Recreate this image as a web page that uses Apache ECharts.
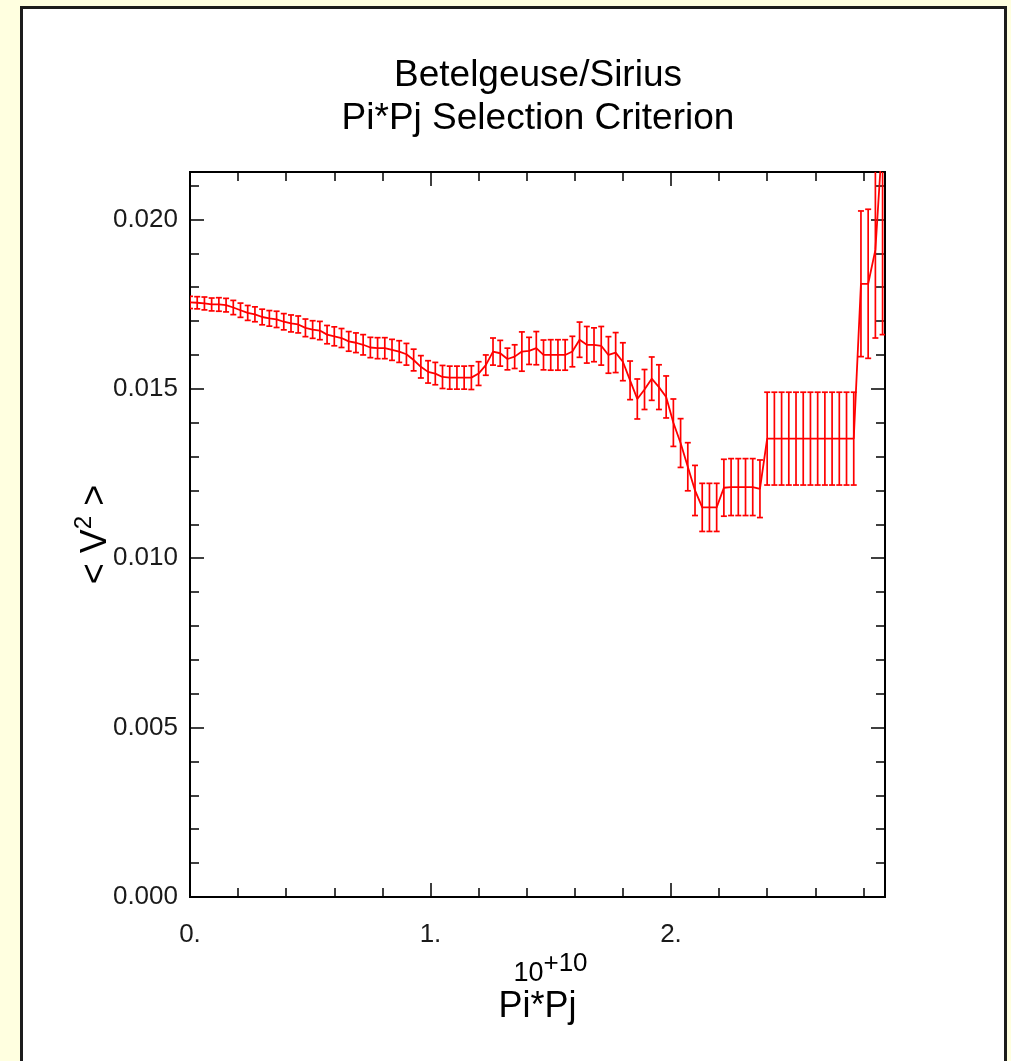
<!DOCTYPE html>
<html>
<head>
<meta charset="utf-8">
<script src="https://cdn.jsdelivr.net/npm/echarts@6/dist/echarts.min.js"></script>
<style>
  html, body { margin: 0; padding: 0; width: 1011px; height: 1061px; overflow: hidden; background: #ffffe0; }
  #panel { position: absolute; left: 20px; top: 6px; width: 981px; height: 1100px; background: #ffffff; border: 3px solid #1c1c1c; }
  #chart { position: absolute; left: 0; top: 0; width: 1011px; height: 1061px; }
</style>
</head>
<body>
<div id="panel"></div>
<div id="chart"></div>
<script>
// Pi*Pj threshold (units of 10^10)
const threshold = [
  0.00, 0.03, 0.06, 0.09, 0.12, 0.15, 0.18, 0.21, 0.24, 0.27,
  0.30, 0.33, 0.36, 0.39, 0.42, 0.45, 0.48, 0.51, 0.54, 0.57,
  0.60, 0.63, 0.66, 0.69, 0.72, 0.75, 0.78, 0.81, 0.84, 0.87,
  0.90, 0.93, 0.96, 0.99, 1.02, 1.05, 1.08, 1.11, 1.14, 1.17,
  1.20, 1.23, 1.26, 1.29, 1.32, 1.35, 1.38, 1.41, 1.44, 1.47,
  1.50, 1.53, 1.56, 1.59, 1.62, 1.65, 1.68, 1.71, 1.74, 1.77,
  1.80, 1.83, 1.86, 1.89, 1.92, 1.95, 1.98, 2.01, 2.04, 2.07,
  2.10, 2.13, 2.16, 2.19, 2.22, 2.25, 2.28, 2.31, 2.34, 2.37,
  2.40, 2.43, 2.46, 2.49, 2.52, 2.55, 2.58, 2.61, 2.64, 2.67,
  2.70, 2.73, 2.76, 2.79, 2.82, 2.85, 2.88
];

// mean squared visibility <V2> for each threshold
const meanV2 = [
  0.01755, 0.01754, 0.01752, 0.01749, 0.01749, 0.01747, 0.01740, 0.01732, 0.01724, 0.01720,
  0.01712, 0.01708, 0.01705, 0.01698, 0.01693, 0.01690, 0.01680, 0.01675, 0.01672, 0.01660,
  0.01655, 0.01650, 0.01640, 0.01636, 0.01630, 0.01622, 0.01620, 0.01620, 0.01615, 0.01610,
  0.01602, 0.01585, 0.01565, 0.01550, 0.01545, 0.01535, 0.01533, 0.01533, 0.01533, 0.01533,
  0.01545, 0.01570, 0.01610, 0.01605, 0.01588, 0.01595, 0.01610, 0.01612, 0.01620, 0.01600,
  0.01600, 0.01600, 0.01600, 0.01610, 0.01645, 0.01630, 0.01630, 0.01627, 0.01600, 0.01607,
  0.01580, 0.01525, 0.01470, 0.01498, 0.01530, 0.01505, 0.01476, 0.01400, 0.01340, 0.01270,
  0.01200, 0.01150, 0.01150, 0.01150, 0.01208, 0.01210, 0.01210, 0.01210, 0.01210, 0.01205,
  0.01353, 0.01353, 0.01353, 0.01353, 0.01353, 0.01353, 0.01353, 0.01353, 0.01353, 0.01353,
  0.01353, 0.01353, 0.01353, 0.01810, 0.01810, 0.01910, 0.02250
];

// one-sigma uncertainty of <V2>
const sigmaV2 = [
  0.00018, 0.00018, 0.00019, 0.00019, 0.00020, 0.00020, 0.00021, 0.00021, 0.00022, 0.00022,
  0.00023, 0.00023, 0.00024, 0.00024, 0.00025, 0.00025, 0.00026, 0.00026, 0.00027, 0.00027,
  0.00028, 0.00028, 0.00029, 0.00029, 0.00030, 0.00030, 0.00031, 0.00031, 0.00031, 0.00032,
  0.00032, 0.00032, 0.00033, 0.00033, 0.00033, 0.00034, 0.00034, 0.00034, 0.00034, 0.00035,
  0.00035, 0.00030, 0.00040, 0.00038, 0.00032, 0.00035, 0.00058, 0.00040, 0.00049, 0.00044,
  0.00045, 0.00045, 0.00045, 0.00045, 0.00052, 0.00054, 0.00050, 0.00057, 0.00054, 0.00059,
  0.00056, 0.00057, 0.00059, 0.00059, 0.00064, 0.00066, 0.00062, 0.00070, 0.00072, 0.00071,
  0.00074, 0.00071, 0.00071, 0.00071, 0.00084, 0.00084, 0.00084, 0.00084, 0.00084, 0.00085,
  0.00137, 0.00137, 0.00137, 0.00137, 0.00137, 0.00137, 0.00137, 0.00137, 0.00137, 0.00137,
  0.00137, 0.00137, 0.00137, 0.00215, 0.00220, 0.00260, 0.00590
];

const xRange = [0, 2.89];
const yRange = [0, 0.0214];
const xMajorStep = 1;
const xMinorStep = 0.2;
const yMajorStep = 0.005;
const yMinorStep = 0.001;

const FONT = '"Liberation Sans", Arial, Helvetica, sans-serif';
const RED = '#ff0000';

const linePoints = threshold.map((x, i) => [x, meanV2[i]]);
const errorBars = threshold.map((x, i) => [x, meanV2[i] - sigmaV2[i], meanV2[i] + sigmaV2[i]]);

function frameAxis(extra) {
  return Object.assign({
    type: 'value',
    axisLine: { show: true, onZero: false, lineStyle: { color: '#000', width: 2 } },
    axisLabel: { show: false },
    splitLine: { show: false },
    minorTick: { show: false }
  }, extra);
}

function xAxisDef(position, step, tickLen, labelled) {
  const ax = frameAxis({
    position: position,
    min: xRange[0], max: xRange[1], interval: step,
    axisTick: { show: true, inside: true, length: tickLen, lineStyle: { color: '#000', width: 1.5 } }
  });
  if (labelled) {
    ax.axisLabel = {
      show: true, margin: 25, fontSize: 26, fontFamily: FONT, color: '#1a1a1a',
      showMaxLabel: false,
      formatter: v => (Number.isInteger(v) ? v + '.' : '')
    };
    ax.name = '{e|10}{s|+10}\n{n|Pi*Pj}';
    ax.nameLocation = 'middle';
    ax.nameGap = 54;
    ax.nameMoveOverlap = false;
    ax.nameTextStyle = {
      color: '#000', fontFamily: FONT,
      rich: {
        e: { fontSize: 27, lineHeight: 36, verticalAlign: 'bottom', fontFamily: FONT, color: '#000', padding: [0, 0, 0, 26] },
        s: { fontSize: 26, lineHeight: 22, verticalAlign: 'top', fontFamily: FONT, color: '#000' },
        n: { fontSize: 36, lineHeight: 40, fontFamily: FONT, color: '#000' }
      }
    };
  }
  return ax;
}

function yAxisDef(position, step, tickLen, labelled) {
  const ax = frameAxis({
    position: position,
    min: yRange[0], max: yRange[1], interval: step,
    axisTick: { show: true, inside: true, length: tickLen, lineStyle: { color: '#000', width: 1.5 } }
  });
  if (labelled) {
    ax.axisLabel = {
      show: true, margin: 12, fontSize: 26, fontFamily: FONT, color: '#1a1a1a',
      showMaxLabel: false,
      formatter: v => v.toFixed(3)
    };
    ax.name = '{n|< V}{s|2}{n| >}';
    ax.nameLocation = 'middle';
    ax.nameGap = 76;
    ax.nameMoveOverlap = false;
    ax.nameTextStyle = {
      color: '#000', fontFamily: FONT,
      rich: {
        n: { fontSize: 36, lineHeight: 42, verticalAlign: 'bottom', fontFamily: FONT, color: '#000' },
        s: { fontSize: 24, lineHeight: 20, verticalAlign: 'top', fontFamily: FONT, color: '#000' }
      }
    };
  }
  return ax;
}

const chart = echarts.init(document.getElementById('chart'), null, { renderer: 'canvas' });

chart.setOption({
  animation: false,
  backgroundColor: 'transparent',
  title: {
    text: 'Betelgeuse/Sirius\nPi*Pj Selection Criterion',
    left: 538, top: 54, textAlign: 'center', padding: 0,
    textStyle: { fontSize: 37, lineHeight: 43, fontWeight: 'normal', fontFamily: FONT, color: '#000' }
  },
  grid: { left: 190, top: 172, width: 695, height: 725, containLabel: false },
  xAxis: [
    xAxisDef('bottom', xMajorStep, 14, true),
    xAxisDef('bottom', xMinorStep, 9, false),
    xAxisDef('top', xMajorStep, 14, false),
    xAxisDef('top', xMinorStep, 9, false)
  ],
  yAxis: [
    yAxisDef('left', yMajorStep, 14, true),
    yAxisDef('left', yMinorStep, 9, false),
    yAxisDef('right', yMajorStep, 14, false),
    yAxisDef('right', yMinorStep, 9, false)
  ],
  series: [
    {
      name: '<V2>',
      type: 'line',
      xAxisIndex: 0, yAxisIndex: 0,
      data: linePoints,
      symbol: 'none',
      clip: true,
      lineStyle: { color: RED, width: 1.8 }
    },
    {
      name: 'error',
      type: 'custom',
      xAxisIndex: 0, yAxisIndex: 0,
      data: errorBars,
      clip: true,
      encode: { x: 0, y: [1, 2] },
      renderItem: function (params, api) {
        const x = api.value(0);
        const lo = api.coord([x, api.value(1)]);
        const hi = api.coord([x, api.value(2)]);
        const cap = 3;
        const style = { stroke: RED, lineWidth: 1.7 };
        return {
          type: 'group',
          children: [
            { type: 'line', shape: { x1: lo[0], y1: lo[1], x2: hi[0], y2: hi[1] }, style: style },
            { type: 'line', shape: { x1: lo[0] - cap, y1: lo[1], x2: lo[0] + cap, y2: lo[1] }, style: style },
            { type: 'line', shape: { x1: hi[0] - cap, y1: hi[1], x2: hi[0] + cap, y2: hi[1] }, style: style }
          ]
        };
      }
    }
  ]
});
</script>
</body>
</html>
